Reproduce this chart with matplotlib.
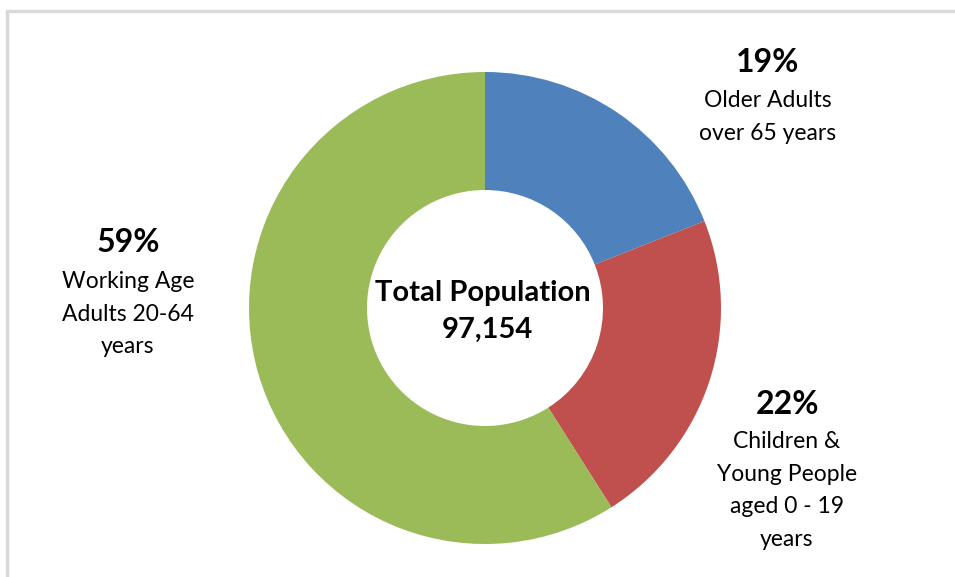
import matplotlib
matplotlib.use("Agg")
import matplotlib.pyplot as plt
from matplotlib.patches import Rectangle

plt.rcParams["font.family"] = ["Lato", "DejaVu Sans"]

groups = ["Older Adults\nover 65 years", "Children &\nYoung People\naged 0 - 19\nyears",
          "Working Age\nAdults 20-64\nyears"]
shares = [19, 22, 59]
colors = ["#4F81BD", "#C0504D", "#9BBB59"]
total = "97,154"

W, H = 955, 577
fig = plt.figure(figsize=(W / 100, H / 100), dpi=100)
ax = fig.add_axes([0, 0, 1, 1])

# y axis is inverted below, so counterclock in data = clockwise on screen
ax.pie(shares, colors=colors, startangle=-90, counterclock=True,
       center=(485, 308), radius=236,
       wedgeprops=dict(width=118, edgecolor="none"))
ax.set_xlim(0, W)
ax.set_ylim(H, 0)
ax.set_aspect("equal")
ax.axis("off")

# light chart frame
fig.patches.append(Rectangle((7, -10), W + 20, H - 1, transform=None,
                             fill=False, edgecolor="#D9D9D9", linewidth=2.5))

ax.text(483, 293, "Total Population", ha="center", va="center",
        fontsize=21, fontweight="bold")
ax.text(487, 330, total, ha="center", va="center", fontsize=21, fontweight="bold")

label_pos = [(768, 62, 101), (787, 405, 442), (128, 243, 282)]
for (x, yp, yl), name, pct in zip(label_pos, groups, shares):
    ax.text(x, yp, f"{pct}%", ha="center", va="center", fontsize=23, fontweight="bold")
    ax.text(x, yl - 11, name, ha="center", va="top", fontsize=16.5, linespacing=1.68)

fig.savefig("out.png", dpi=100)
